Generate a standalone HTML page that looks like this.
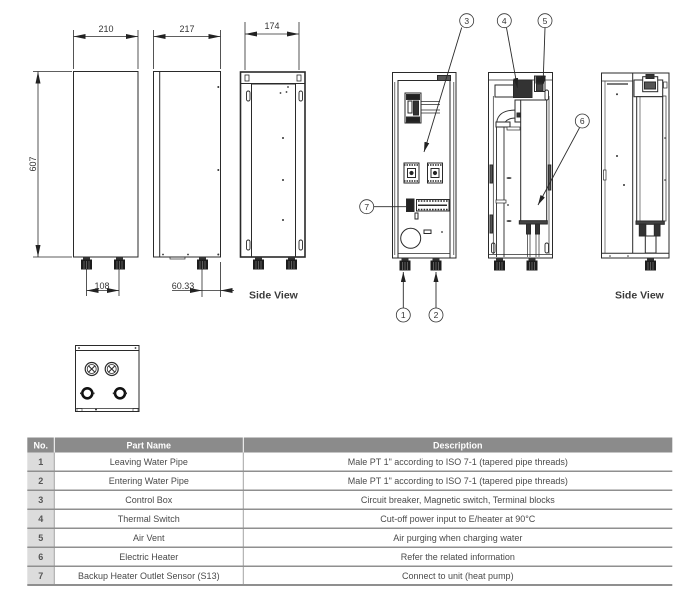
<!DOCTYPE html>
<html><head><meta charset="utf-8"><style>
html,body{margin:0;padding:0;background:#fff;}
svg{display:block;}
</style></head><body>
<svg width="700" height="611" viewBox="0 0 700 611" font-family="'Liberation Sans', sans-serif">
<defs>
<marker id="ar" viewBox="0 0 12 5" refX="12" refY="2.5" markerWidth="12" markerHeight="5" markerUnits="userSpaceOnUse" orient="auto-start-reverse"><path d="M0,0L12,2.5L0,5z" fill="#222"/></marker>
<marker id="la" viewBox="0 0 10 5" refX="10" refY="2.5" markerWidth="10" markerHeight="5" markerUnits="userSpaceOnUse" orient="auto"><path d="M0,0L10,2.5L0,5z" fill="#222"/></marker>
</defs>
<rect width="700" height="611" fill="#fff"/>

<!-- ============ FRONT VIEW ============ -->
<g stroke="#2a2a2a" fill="none" stroke-width="1">
<rect x="73.5" y="71.5" width="64.5" height="185.5" fill="#fff"/>
<!-- dim 210 -->
<path d="M73.5,30V69M138,30V69" stroke-width="0.8"/>
<line x1="73.5" y1="36.5" x2="138" y2="36.5" stroke-width="0.8" marker-start="url(#ar)" marker-end="url(#ar)"/>
<!-- dim 607 -->
<path d="M33,71.5H72M33,257H72" stroke-width="0.8"/>
<line x1="38" y1="71.5" x2="38" y2="257" stroke-width="0.8" marker-start="url(#ar)" marker-end="url(#ar)"/>
<!-- dim 108 -->
<path d="M86.5,262V296M119,262V296" stroke-width="0.8"/>
<line x1="86.5" y1="290.5" x2="119" y2="290.5" stroke-width="0.8" marker-start="url(#ar)" marker-end="url(#ar)"/>
</g>
<g fill="#1c1c1c">
<rect x="83" y="257" width="7" height="3" fill="#333"/><rect x="81" y="259.5" width="11" height="10"/>
<rect x="116" y="257" width="7" height="3" fill="#333"/><rect x="114" y="259.5" width="11" height="10"/>
</g>
<path d="M84,261v8M86.5,261v8M89,261v8M117,261v8M119.5,261v8M122,261v8" stroke="#888" stroke-width="0.6"/>
<text x="106" y="32" font-size="9" text-anchor="middle" fill="#333">210</text>
<text x="36" y="164" font-size="9" text-anchor="middle" fill="#333" transform="rotate(-90 36 164)">607</text>
<text x="102" y="289" font-size="9" text-anchor="middle" fill="#333">108</text>

<!-- ============ SIDE VIEW ============ -->
<g stroke="#2a2a2a" fill="none" stroke-width="1">
<rect x="153.5" y="71.5" width="67" height="185.5" fill="#fff"/>
<line x1="159.7" y1="72" x2="159.7" y2="256.5"/>
<rect x="170" y="257" width="15" height="2" stroke-width="0.7"/>
<path d="M153.5,30V69M220.5,30V69" stroke-width="0.8"/>
<line x1="153.5" y1="36.5" x2="220.5" y2="36.5" stroke-width="0.8" marker-start="url(#ar)" marker-end="url(#ar)"/>
<path d="M202,262V297M220.5,262V297" stroke-width="0.8"/>
<line x1="172" y1="290.5" x2="202" y2="290.5" stroke-width="0.8" marker-end="url(#ar)"/>
<line x1="234" y1="290.5" x2="220.5" y2="290.5" stroke-width="0.8" marker-end="url(#ar)"/>
<line x1="202" y1="290.5" x2="220.5" y2="290.5" stroke-width="0.8"/>
</g>
<g fill="#333"><circle cx="218.3" cy="87" r="1"/><circle cx="218.3" cy="170" r="1"/><circle cx="218.3" cy="254.5" r="1"/><circle cx="163" cy="254.5" r="0.9"/><circle cx="188" cy="254.5" r="0.9"/></g>
<rect x="199" y="257" width="7" height="3" fill="#333"/><rect x="197" y="259.5" width="11" height="10" fill="#1c1c1c"/>
<path d="M200,261v8M202.5,261v8M205,261v8" stroke="#888" stroke-width="0.6"/>
<text x="187" y="32" font-size="9" text-anchor="middle" fill="#333">217</text>
<text x="183" y="289" font-size="9" text-anchor="middle" fill="#333">60.33</text>

<!-- ============ BACK VIEW ============ -->
<g stroke="#2a2a2a" fill="none" stroke-width="1">
<rect x="240.5" y="72" width="64.5" height="185" fill="#fff" stroke-width="1.6"/>
<line x1="241" y1="83.5" x2="304.5" y2="83.5"/>
<rect x="251.5" y="84" width="44" height="173"/>
<path d="M245,22V70M299,22V70" stroke-width="0.8"/>
<line x1="245" y1="34" x2="299" y2="34" stroke-width="0.8" marker-start="url(#ar)" marker-end="url(#ar)"/>
<rect x="245" y="75" width="4" height="6" stroke-width="0.8"/>
<rect x="297" y="75" width="4" height="6" stroke-width="0.8"/>
<rect x="246.5" y="91" width="3.5" height="10" rx="1.7" stroke-width="0.9"/>
<rect x="299" y="91" width="3.5" height="10" rx="1.7" stroke-width="0.9"/>
<rect x="246.5" y="240" width="3.5" height="10" rx="1.7" stroke-width="0.9"/>
<rect x="299" y="240" width="3.5" height="10" rx="1.7" stroke-width="0.9"/>
</g>
<g fill="#333"><circle cx="286.5" cy="92" r="0.9"/><circle cx="280.5" cy="93" r="0.9"/><circle cx="288" cy="87" r="0.9"/><circle cx="283" cy="138" r="1"/><circle cx="283" cy="180" r="1"/><circle cx="283" cy="220" r="1"/></g>
<rect x="255" y="257" width="7" height="3" fill="#333"/><rect x="253" y="259.5" width="11" height="10" fill="#1c1c1c"/>
<rect x="288" y="257" width="7" height="3" fill="#333"/><rect x="286" y="259.5" width="11" height="10" fill="#1c1c1c"/>
<path d="M256,261v8M258.5,261v8M261,261v8M289,261v8M291.5,261v8M294,261v8" stroke="#888" stroke-width="0.6"/>
<text x="272" y="29" font-size="9" text-anchor="middle" fill="#333">174</text>
<text x="249" y="298.5" font-size="10.5" font-weight="bold" fill="#3a3a3a">Side View</text>

<!-- ============ OPEN FRONT (A) ============ -->
<g stroke="#2a2a2a" fill="none" stroke-width="1">
<rect x="392.5" y="72.5" width="63.5" height="185.5" fill="#fff"/>
<rect x="398" y="80.5" width="52" height="177.5"/>
<path d="M394.8,82V255M453.8,82V255" stroke-width="0.7"/>
<rect x="437.5" y="75.5" width="13" height="5" fill="#555"/>
<!-- breaker -->
<rect x="405" y="93" width="16" height="30" fill="#fff"/>
<rect x="406.5" y="94.5" width="13" height="5" fill="#222"/>
<rect x="406.5" y="117" width="13" height="5" fill="#222"/>
<rect x="408" y="101" width="4" height="12" fill="#fff"/>
<rect x="413.5" y="101" width="5" height="14" fill="#333"/>
<path d="M421,101.5H440M421,104.5H440M421,110H440M421,113H440" stroke-width="0.7"/>
<!-- contactors -->
<rect x="404" y="163" width="15" height="20" fill="#fff"/>
<rect x="427.5" y="163" width="15" height="20" fill="#fff"/>
<path d="M404,165h15M404,181h15M427.5,165h15M427.5,181h15" stroke-width="1.6" stroke-dasharray="1.5,1"/>
<rect x="407.5" y="168.5" width="8" height="9"/>
<rect x="431" y="168.5" width="8" height="9"/>
<circle cx="411.5" cy="173" r="1.6" fill="#222"/>
<circle cx="435" cy="173" r="1.6" fill="#222"/>
<!-- terminal block -->
<rect x="416.5" y="199.5" width="32.5" height="11.5" fill="#fff"/>
<path d="M418,201H448M418,209.5H448" stroke-width="1.4" stroke-dasharray="1.6,1.2"/>
<line x1="418" y1="205.3" x2="447" y2="205.3" stroke-width="1.5"/>
<rect x="406.5" y="199" width="7.5" height="12.5" fill="#222"/>
<rect x="415" y="213" width="3" height="6" fill="#fff"/>
<circle cx="410.7" cy="238.3" r="10"/>
<rect x="424" y="230" width="7" height="3.5" fill="#fff"/>
<line x1="398" y1="253.5" x2="450" y2="253.5" stroke-width="0.7"/>
</g>
<circle cx="442" cy="232" r="0.9" fill="#333"/>
<rect x="401.5" y="258" width="7" height="3" fill="#333"/><rect x="399.5" y="260.5" width="11" height="10" fill="#1c1c1c"/>
<rect x="432.5" y="258" width="7" height="3" fill="#333"/><rect x="430.5" y="260.5" width="11" height="10" fill="#1c1c1c"/>
<path d="M402.5,262v8M405,262v8M407.5,262v8M433.5,262v8M436,262v8M438.5,262v8" stroke="#888" stroke-width="0.6"/>

<!-- ============ OPEN MIDDLE (B) ============ -->
<g stroke="#2a2a2a" fill="none" stroke-width="1">
<rect x="488.5" y="72.5" width="64" height="185.5" fill="#fff"/>
<path d="M493.3,96V254M549,96V254" stroke-width="0.7"/>
<line x1="489" y1="80" x2="552" y2="80" stroke-width="0.7"/>
<rect x="495" y="85" width="25" height="12"/>
<rect x="513.5" y="80" width="18.5" height="17.5" fill="#333"/>
<rect x="534.5" y="76" width="10.5" height="15.5" fill="#fff"/>
<rect x="536" y="77" width="7.5" height="6" fill="#222"/>
<rect x="536.5" y="84" width="6.5" height="7" fill="#444"/>
<!-- pipe -->
<path d="M496.5,257V125Q496.5,110 516,110" stroke-width="0.9"/>
<path d="M504,257V127Q504,118 516,118" stroke-width="0.9"/>
<rect x="496" y="122" width="14" height="5" fill="#fff"/>
<rect x="515" y="100" width="6" height="22" fill="#fff"/>
<rect x="517" y="113" width="3" height="4" fill="#333"/>
<rect x="507" y="127" width="13" height="3" fill="#fff" stroke-width="0.7"/>
<rect x="496" y="200" width="10" height="3" fill="#fff" stroke-width="0.7"/>
<!-- heater -->
<rect x="520.7" y="100" width="26" height="121" fill="#fff"/>
<rect x="519.3" y="220.7" width="28" height="3.3" fill="#444"/>
<rect x="526.5" y="224" width="4" height="10" fill="#333"/>
<rect x="535.5" y="224" width="4" height="10" fill="#333"/>
<path d="M527.5,234V257M530,234V257M536,234V257M539,234V257" stroke-width="0.7"/>
<rect x="490" y="165" width="2.5" height="18" fill="#555"/>
<rect x="490" y="215" width="2.5" height="18" fill="#555"/>
<rect x="548.3" y="165" width="2.5" height="25" fill="#555"/>
<rect x="491.5" y="243" width="3.5" height="10" rx="1.7" stroke-width="0.9"/>
<rect x="545" y="243" width="3.5" height="10" rx="1.7" stroke-width="0.9"/>
<rect x="545" y="90" width="3.5" height="10" rx="1.7" stroke-width="0.9"/>
<line x1="489" y1="254.5" x2="552" y2="254.5" stroke-width="0.7"/>
</g>
<g fill="#333"><ellipse cx="509" cy="178" rx="2.5" ry="0.9"/><ellipse cx="509" cy="221" rx="2.5" ry="0.9"/><circle cx="508" cy="205" r="0.9"/></g>
<rect x="496" y="258" width="7" height="3" fill="#333"/><rect x="494" y="260.5" width="11" height="10" fill="#1c1c1c"/>
<rect x="528.5" y="258" width="7" height="3" fill="#333"/><rect x="526.5" y="260.5" width="11" height="10" fill="#1c1c1c"/>
<path d="M497,262v8M499.5,262v8M502,262v8M529.5,262v8M532,262v8M534.5,262v8" stroke="#888" stroke-width="0.6"/>

<!-- ============ OPEN SIDE (C) ============ -->
<g stroke="#2a2a2a" fill="none" stroke-width="1">
<rect x="601.5" y="73" width="67.5" height="185" fill="#fff"/>
<line x1="632.7" y1="73" x2="632.7" y2="253"/>
<line x1="602" y1="81" x2="632.7" y2="81" stroke-width="0.7"/>
<path d="M605,81V253" stroke-width="0.6"/>
<line x1="607" y1="84" x2="628" y2="84" stroke-width="1.3"/>
<rect x="634" y="80" width="28.7" height="16.7"/>
<rect x="642.7" y="76.7" width="15" height="15" fill="#fff"/>
<rect x="646" y="74.5" width="8" height="4" fill="#333"/>
<rect x="644.5" y="82" width="11" height="7" fill="#555"/>
<rect x="636.7" y="96.7" width="26" height="124.5" fill="#fff"/>
<line x1="640" y1="97" x2="640" y2="221" stroke-width="0.6"/>
<rect x="662.7" y="96" width="3.3" height="125" stroke-width="0.7"/>
<rect x="636" y="221" width="28.3" height="3.3" fill="#444"/>
<rect x="639.3" y="224" width="6.5" height="12" fill="#333"/>
<rect x="654.3" y="224" width="5.7" height="12" fill="#333"/>
<rect x="645.3" y="236" width="10.7" height="17" fill="#fff"/>
<line x1="602" y1="253.3" x2="669" y2="253.3"/>
<rect x="603.5" y="170" width="2.5" height="10" fill="#fff" stroke-width="0.7"/>
<rect x="663.5" y="82" width="3.5" height="6" stroke-width="0.7"/>
</g>
<g fill="#333"><circle cx="617" cy="94.3" r="1"/><circle cx="617" cy="156" r="1"/><circle cx="624" cy="185" r="1"/><circle cx="665" cy="138" r="0.8"/><circle cx="665" cy="180" r="0.8"/><circle cx="610" cy="256" r="0.8"/><circle cx="628" cy="256" r="0.8"/></g>
<rect x="647" y="258" width="7" height="3" fill="#333"/><rect x="645" y="260.5" width="11" height="10" fill="#1c1c1c"/>
<path d="M648,262v8M650.5,262v8M653,262v8" stroke="#888" stroke-width="0.6"/>
<text x="615" y="298.5" font-size="10.5" font-weight="bold" fill="#3a3a3a">Side View</text>

<!-- ============ CALLOUTS ============ -->
<g stroke="#2a2a2a" stroke-width="0.9" fill="none">
<line x1="461.7" y1="27.5" x2="424" y2="152" marker-end="url(#la)"/>
<line x1="506.5" y1="27.8" x2="517.5" y2="88" marker-end="url(#la)"/>
<line x1="545" y1="27.8" x2="543" y2="86" marker-end="url(#la)"/>
<line x1="579.5" y1="127.8" x2="538" y2="205" marker-end="url(#la)"/>
<line x1="373.8" y1="206.7" x2="407" y2="206.7"/>
<line x1="403.3" y1="308" x2="403.3" y2="272" marker-end="url(#la)"/>
<line x1="436" y1="308" x2="436" y2="272" marker-end="url(#la)"/>
</g>
<g stroke="#333" stroke-width="0.8" fill="#fff">
<circle cx="466.7" cy="20.7" r="7"/>
<circle cx="504.3" cy="20.7" r="7"/>
<circle cx="545" cy="20.7" r="7"/>
<circle cx="582.3" cy="121" r="7"/>
<circle cx="366.7" cy="206.7" r="7"/>
<circle cx="403.3" cy="315" r="7"/>
<circle cx="436" cy="315" r="7"/>
</g>
<g font-size="8.5" text-anchor="middle" fill="#333">
<text x="466.7" y="23.8">3</text>
<text x="504.3" y="23.8">4</text>
<text x="545" y="23.8">5</text>
<text x="582.3" y="124.1">6</text>
<text x="366.7" y="209.8">7</text>
<text x="403.3" y="318.1">1</text>
<text x="436" y="318.1">2</text>
</g>

<!-- ============ BOTTOM VIEW ============ -->
<g stroke="#2a2a2a" fill="none" stroke-width="1">
<rect x="75.5" y="345.5" width="63.5" height="66" fill="#fff"/>
<line x1="76" y1="350.5" x2="138.5" y2="350.5"/>
<circle cx="91.7" cy="369" r="6.5" stroke-width="1.2"/>
<circle cx="91.7" cy="369" r="4.5" stroke-width="0.8"/>
<path d="M88.7,366l6,6M94.7,366l-6,6" stroke-width="1"/>
<circle cx="111.7" cy="369" r="6.5" stroke-width="1.2"/>
<circle cx="111.7" cy="369" r="4.5" stroke-width="0.8"/>
<path d="M108.7,366l6,6M114.7,366l-6,6" stroke-width="1"/>
<circle cx="87.3" cy="393.3" r="5" stroke="#111" stroke-width="2.6"/>
<circle cx="120" cy="393.3" r="5" stroke="#111" stroke-width="2.6"/>
<path d="M80,393.3h2M92.5,393.3h2M112.8,393.3h2M125,393.3h2" stroke-width="1.6"/>
<path d="M76,408.5H138.5" stroke-width="0.7"/>
<rect x="77" y="408.5" width="5" height="3" stroke-width="0.6"/>
<rect x="133" y="408.5" width="5" height="3" stroke-width="0.6"/>
</g>
<g fill="#333"><circle cx="79" cy="348" r="0.9"/><circle cx="135.5" cy="348" r="0.9"/><circle cx="96" cy="409.5" r="1"/></g>

<!-- ============ TABLE ============ -->
<rect x="27.3" y="437.5" width="645" height="15" fill="#8b8b8b"/>
<rect x="27.3" y="452.5" width="27" height="132.5" fill="#dcdcdc"/>
<g stroke="#fff" stroke-width="1"><line x1="54.3" y1="437.5" x2="54.3" y2="452.5"/><line x1="243.3" y1="437.5" x2="243.3" y2="452.5"/></g>
<g stroke="#a3a3a3" stroke-width="1"><line x1="54.3" y1="452.5" x2="54.3" y2="585"/><line x1="243.3" y1="452.5" x2="243.3" y2="585"/></g>
<g stroke="#8f8f8f" stroke-width="1.5">
<line x1="27.3" y1="471.3" x2="672.3" y2="471.3"/>
<line x1="27.3" y1="490.3" x2="672.3" y2="490.3"/>
<line x1="27.3" y1="509.3" x2="672.3" y2="509.3"/>
<line x1="27.3" y1="528.3" x2="672.3" y2="528.3"/>
<line x1="27.3" y1="547.3" x2="672.3" y2="547.3"/>
<line x1="27.3" y1="566.3" x2="672.3" y2="566.3"/>
<line x1="27.3" y1="585" x2="672.3" y2="585" stroke-width="2"/>
</g>
<g font-size="9" font-weight="bold" fill="#fff" text-anchor="middle">
<text x="40.8" y="448.3">No.</text>
<text x="148.8" y="448.3">Part Name</text>
<text x="457.8" y="448.3">Description</text>
</g>
<g font-size="9" font-weight="bold" fill="#555" text-anchor="middle">
<text x="40.8" y="465.2">1</text>
<text x="40.8" y="484.2">2</text>
<text x="40.8" y="503.2">3</text>
<text x="40.8" y="522.2">4</text>
<text x="40.8" y="541.2">5</text>
<text x="40.8" y="560.2">6</text>
<text x="40.8" y="579.2">7</text>
</g>
<g font-size="9" fill="#4a4a4a" text-anchor="middle">
<text x="148.8" y="465.2">Leaving Water Pipe</text>
<text x="148.8" y="484.2">Entering Water Pipe</text>
<text x="148.8" y="503.2">Control Box</text>
<text x="148.8" y="522.2">Thermal Switch</text>
<text x="148.8" y="541.2">Air Vent</text>
<text x="148.8" y="560.2">Electric Heater</text>
<text x="148.8" y="579.2">Backup Heater Outlet Sensor (S13)</text>
<text x="457.8" y="465.2">Male PT 1&quot; according to ISO 7-1 (tapered pipe threads)</text>
<text x="457.8" y="484.2">Male PT 1&quot; according to ISO 7-1 (tapered pipe threads)</text>
<text x="457.8" y="503.2">Circuit breaker, Magnetic switch, Terminal blocks</text>
<text x="457.8" y="522.2">Cut-off power input to E/heater at 90°C</text>
<text x="457.8" y="541.2">Air purging when charging water</text>
<text x="457.8" y="560.2">Refer the related information</text>
<text x="457.8" y="579.2">Connect to unit (heat pump)</text>
</g>
</svg>
</body></html>
